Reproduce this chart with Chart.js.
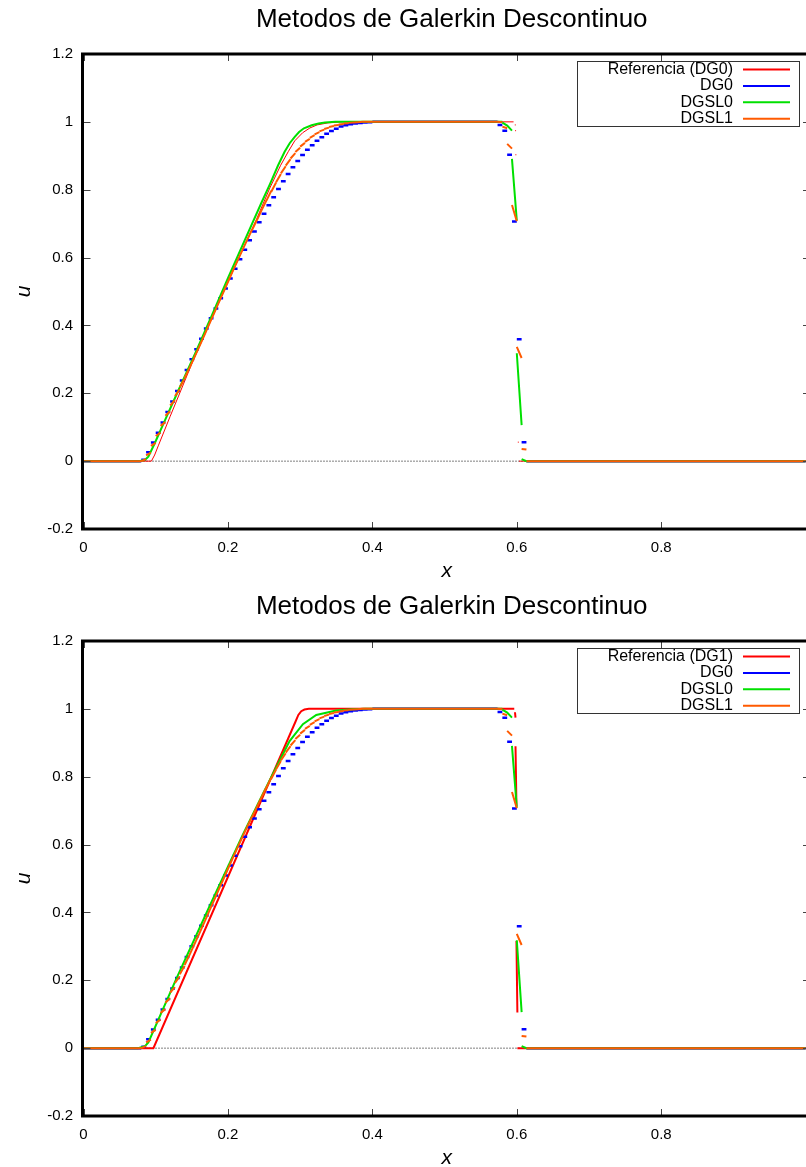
<!DOCTYPE html>
<html>
<head>
<meta charset="utf-8">
<script src="https://cdn.jsdelivr.net/npm/chart.js@4.4.1/dist/chart.umd.min.js"></script>
<style>
  html, body { margin: 0; padding: 0; background: #fff; overflow: hidden; width: 806px; height: 1167px; }
  .plot { position: absolute; left: 0; }
</style>
</head>
<body>
<canvas id="plotTop" class="plot" width="810" height="583" style="top:0"></canvas>
<canvas id="plotBottom" class="plot" width="810" height="583" style="top:587px"></canvas>
<script>
// Textos y ejes
const plotTitle = 'Metodos de Galerkin Descontinuo';
const legendTop = ['Referencia (DG0)', 'DG0', 'DGSL0', 'DGSL1'];
const legendBottom = ['Referencia (DG1)', 'DG0', 'DGSL0', 'DGSL1'];
const xTicks = [0, 0.2, 0.4, 0.6, 0.8];
const xTickLabels = ['0', '0.2', '0.4', '0.6', '0.8'];
const yTicks = [-0.2, 0, 0.2, 0.4, 0.6, 0.8, 1, 1.2];
const yTickLabels = ['-0.2', '0', '0.2', '0.4', '0.6', '0.8', '1', '1.2'];
const nCells = 150;

// DG0: un valor por celda (rampa y choque), el resto vale 0 o 1
const dg0RampStart = 12;
const dg0Ramp = [0.004, 0.026, 0.055, 0.084, 0.114, 0.145, 0.176, 0.207, 0.238, 0.269,
  0.300, 0.330, 0.361, 0.391, 0.421, 0.450, 0.480, 0.509, 0.538, 0.567,
  0.595, 0.623, 0.651, 0.677, 0.704, 0.729, 0.754, 0.778, 0.802, 0.825,
  0.846, 0.866, 0.885, 0.902, 0.918, 0.931, 0.944, 0.955, 0.965, 0.973,
  0.980, 0.986, 0.990, 0.993, 0.995, 0.997, 0.998, 0.999];
const dg0ShockStart = 86;
const dg0Shock = [0.991, 0.974, 0.903, 0.706, 0.359, 0.056];

// DGSL1: [izquierda, derecha] por celda
const dgsl1RampStart = 12;
const dgsl1Ramp = [[0.000, 0.006], [0.017, 0.025], [0.045, 0.054], [0.074, 0.084], [0.104, 0.115],
  [0.134, 0.147], [0.164, 0.180], [0.192, 0.212], [0.218, 0.243], [0.245, 0.274],
  [0.274, 0.305], [0.305, 0.336], [0.336, 0.368], [0.368, 0.400], [0.400, 0.432],
  [0.432, 0.464], [0.464, 0.496], [0.496, 0.528], [0.528, 0.560], [0.560, 0.591],
  [0.591, 0.622], [0.622, 0.652], [0.652, 0.682], [0.681, 0.710], [0.710, 0.740],
  [0.740, 0.769], [0.768, 0.797], [0.794, 0.821], [0.822, 0.846], [0.848, 0.869],
  [0.871, 0.890], [0.892, 0.908], [0.911, 0.924], [0.927, 0.938], [0.941, 0.950],
  [0.953, 0.961], [0.963, 0.970], [0.972, 0.977], [0.979, 0.983], [0.985, 0.988],
  [0.989, 0.991], [0.992, 0.994], [0.995, 0.996], [0.997, 0.998], [0.998, 0.999],
  [0.999, 1.000], [1.000, 1.000], [1.000, 1.000]];
const dgsl1ShockStart = 86;
const dgsl1Shock = [[1.000, 0.999], [0.986, 0.981], [0.935, 0.921], [0.755, 0.707], [0.337, 0.304], [0.036, 0.034]];

// DGSL0: polilineas [x, u] (null = corte)
const dgsl0Top = [[0, 0], [0.0775, 0], [0.0852, 0.004], [0.0898, 0.013], [0.0985, 0.052], [0.1129, 0.121],
  [0.1285, 0.195], [0.1545, 0.317], [0.1785, 0.433], [0.2006, 0.542], [0.2235, 0.652], [0.2467, 0.763],
  [0.2585, 0.818], [0.2695, 0.872], [0.2785, 0.912], [0.2855, 0.937], [0.2925, 0.956], [0.2985, 0.970],
  [0.3052, 0.981], [0.3159, 0.990], [0.3255, 0.995], [0.3345, 0.998], [0.3485, 1], [0.58, 1]];
const dgsl0Bottom = [[0, 0], [0.0755, 0], [0.0852, 0.006], [0.0898, 0.017], [0.1286, 0.205], [0.1747, 0.419],
  [0.2208, 0.630], [0.2485, 0.750], [0.2669, 0.828], [0.2854, 0.905], [0.3038, 0.955], [0.3223, 0.982],
  [0.3499, 0.995], [0.373, 0.999], [0.39, 1], [0.58, 1]];
const dgsl0Shock = [[0.58, 0.998], [0.5867, 0.989], [0.5933, 0.974], null, [0.5933, 0.891], [0.6, 0.709], null,
  [0.6, 0.318], [0.6067, 0.106], null, [0.6067, 0.006], [0.6133, 0], [1, 0]];

// Referencias
const refTop = [[0, 0], [0.094, 0], [0.0985, 0.018], [0.1035, 0.045], [0.12, 0.132], [0.15, 0.287],
  [0.2, 0.528], [0.24, 0.715], [0.258, 0.805], [0.273, 0.872], [0.2835, 0.912], [0.2925, 0.944],
  [0.3035, 0.968], [0.3135, 0.982], [0.3235, 0.991], [0.3385, 0.997], [0.3585, 1], [0.5955, 1]];
const refTopShock = [[0.5972, 0.991], [0.5986, 0.991], null, [0.5976, 0.974], [0.599, 0.974], null,
  [0.598, 0.903], [0.5994, 0.903], null, [0.6014, 0.056], [0.6028, 0.056], null, [0.603, 0], [1, 0]];
const refBottom = [[0, 0], [0.0968, 0], [0.2935, 0.962], [0.2975, 0.982], [0.3015, 0.993], [0.306, 0.998],
  [0.312, 1], [0.5965, 1]];
const refBottomShock = [[0.5975, 0.99], [0.5982, 0.974], null, [0.5982, 0.89], [0.5995, 0.714], null,
  [0.5995, 0.316], [0.6008, 0.105], null, [0.6008, 0], [1, 0]];

const colRef = '#ff0000';
const colDG0 = '#0000ff';
const colDGSL0 = '#00e000';
const colDGSL1 = '#ff5a00';
const fontFamily = '"Liberation Sans", Arial, sans-serif';

// Helpers para armar los puntos
function toPoints(list) {
  const pts = [];
  list.forEach(p => {
    if (p) pts.push({ x: p[0], y: p[1] });
    else pts.push({ x: pts[pts.length - 1].x, y: null });
  });
  return pts;
}
function cellSteps(start, vals) {
  const pts = [];
  vals.forEach((v, k) => {
    const a = (start + k) / nCells, b = (start + k + 1) / nCells;
    pts.push({ x: a, y: v }, { x: b, y: v }, { x: b, y: null });
  });
  return pts;
}
function cellLines(start, pairs) {
  const pts = [];
  pairs.forEach((p, k) => {
    const a = (start + k) / nCells, b = (start + k + 1) / nCells;
    pts.push({ x: a, y: p[0] }, { x: b, y: p[1] }, { x: b, y: null });
  });
  return pts;
}
function flat(a, b, v) {
  return [{ x: a, y: v }, { x: b, y: v }, { x: b, y: null }];
}
function dg0Points() {
  const rampEnd = dg0RampStart + dg0Ramp.length;
  const shockEnd = dg0ShockStart + dg0Shock.length;
  return [].concat(flat(0, dg0RampStart / nCells, 0), cellSteps(dg0RampStart, dg0Ramp),
    flat(rampEnd / nCells, dg0ShockStart / nCells, 1), cellSteps(dg0ShockStart, dg0Shock),
    flat(shockEnd / nCells, 1, 0));
}
function dgsl1Points() {
  const rampEnd = dgsl1RampStart + dgsl1Ramp.length;
  const shockEnd = dgsl1ShockStart + dgsl1Shock.length;
  return [].concat(flat(0, dgsl1RampStart / nCells, 0), cellLines(dgsl1RampStart, dgsl1Ramp),
    flat(rampEnd / nCells, dgsl1ShockStart / nCells, 1), cellLines(dgsl1ShockStart, dgsl1Shock),
    flat(shockEnd / nCells, 1, 0));
}

// Marco, ticks, titulo y leyenda al estilo gnuplot
const gnuplotFrame = {
  id: 'gnuplotFrame',
  afterDatasetsDraw(chart, args, opts) {
    const { ctx, chartArea: a, scales: { x, y } } = chart;
    ctx.save();
    ctx.strokeStyle = '#444';
    ctx.lineWidth = 1;
    ctx.beginPath();
    x.ticks.forEach(t => {
      const px = Math.round(x.getPixelForValue(t.value)) + 0.5;
      ctx.moveTo(px, a.bottom); ctx.lineTo(px, a.bottom - 7);
      ctx.moveTo(px, a.top); ctx.lineTo(px, a.top + 7);
    });
    y.ticks.forEach(t => {
      const py = Math.round(y.getPixelForValue(t.value)) + 0.5;
      ctx.moveTo(a.left, py); ctx.lineTo(a.left + 7, py);
      ctx.moveTo(a.right, py); ctx.lineTo(a.right - 7, py);
    });
    ctx.stroke();

    ctx.strokeStyle = '#000';
    ctx.lineWidth = 3;
    ctx.strokeRect(a.left - 1, a.top, a.right - a.left + 1, a.bottom - a.top);

    ctx.fillStyle = '#000';
    ctx.font = '26px ' + fontFamily;
    ctx.textAlign = 'center';
    ctx.textBaseline = 'middle';
    ctx.fillText(plotTitle, (a.left + a.right) / 2 + 5, 20);

    // leyenda
    const colors = [colRef, colDG0, colDGSL0, colDGSL1];
    const bx = 577.5, by = a.top + 7.5, bw = 222, bh = 65;
    ctx.strokeStyle = '#333';
    ctx.lineWidth = 1;
    ctx.strokeRect(bx, by, bw, bh);
    ctx.font = '16px ' + fontFamily;
    ctx.textAlign = 'right';
    opts.labels.forEach((lab, i) => {
      const ry = by + 8 + i * 16.4;
      ctx.fillStyle = '#000';
      ctx.fillText(lab, 733, ry);
      ctx.strokeStyle = colors[i];
      ctx.lineWidth = 2;
      ctx.beginPath();
      ctx.moveTo(743, ry); ctx.lineTo(790, ry);
      ctx.stroke();
    });
    ctx.restore();
  }
};

function makePlot(canvasId, labels, refPts, refWidth, greenPts) {
  const ctx = document.getElementById(canvasId).getContext('2d');
  return new Chart(ctx, {
    type: 'line',
    data: {
      datasets: [
        { label: labels[0], data: refPts, borderColor: colRef, borderWidth: refWidth, order: 4 },
        { label: labels[1], data: dg0Points(), borderColor: colDG0, borderWidth: 2.5, order: 3 },
        { label: labels[2], data: greenPts, borderColor: colDGSL0, borderWidth: 2, order: 2 },
        { label: labels[3], data: dgsl1Points(), borderColor: colDGSL1, borderWidth: 2, order: 1 },
        { label: 'cero', data: [{ x: 0, y: 0 }, { x: 1, y: 0 }], borderColor: '#000', borderWidth: 1, borderDash: [1, 2], order: 5 }
      ]
    },
    options: {
      responsive: false,
      animation: false,
      devicePixelRatio: 1,
      elements: { point: { radius: 0 }, line: { tension: 0, fill: false } },
      layout: { padding: { top: 54, right: 0, bottom: 0, left: 0 } },
      plugins: {
        legend: { display: false },
        tooltip: { enabled: false },
        title: { display: false },
        gnuplotFrame: { labels: labels }
      },
      scales: {
        x: {
          type: 'linear', min: 0, max: 1.006,
          afterBuildTicks: s => { s.ticks = xTicks.map(v => ({ value: v })); },
          afterFit: s => { s.height = 54; },
          grid: { display: false, drawTicks: false },
          border: { display: false },
          ticks: {
            padding: 10, color: '#000', autoSkip: false, maxRotation: 0,
            font: { family: fontFamily, size: 15 },
            callback: (v, i) => xTickLabels[i]
          },
          title: {
            display: true, text: 'x', color: '#000',
            font: { family: fontFamily, size: 21, style: 'italic', lineHeight: 1 },
            padding: { top: 0, bottom: 1 }
          }
        },
        y: {
          type: 'linear', min: -0.2, max: 1.2,
          afterBuildTicks: s => { s.ticks = yTicks.map(v => ({ value: v })); },
          afterFit: s => { s.width = 83.5; },
          grid: { display: false, drawTicks: false },
          border: { display: false },
          ticks: {
            padding: 10.5, color: '#000', autoSkip: false,
            font: { family: fontFamily, size: 15 },
            callback: (v, i) => yTickLabels[i]
          },
          title: {
            display: true, text: 'u', color: '#000',
            font: { family: fontFamily, size: 21, style: 'italic', lineHeight: 1 },
            padding: { top: 13.5, bottom: 0 }
          }
        }
      }
    },
    plugins: [gnuplotFrame]
  });
}

window.addEventListener('load', () => {
  makePlot('plotTop', legendTop,
    toPoints(refTop.concat([null], refTopShock)), 1,
    toPoints(dgsl0Top.concat([null], dgsl0Shock)));
  makePlot('plotBottom', legendBottom,
    toPoints(refBottom.concat([null], refBottomShock)), 2,
    toPoints(dgsl0Bottom.concat([null], dgsl0Shock)));
});
</script>
</body>
</html>
